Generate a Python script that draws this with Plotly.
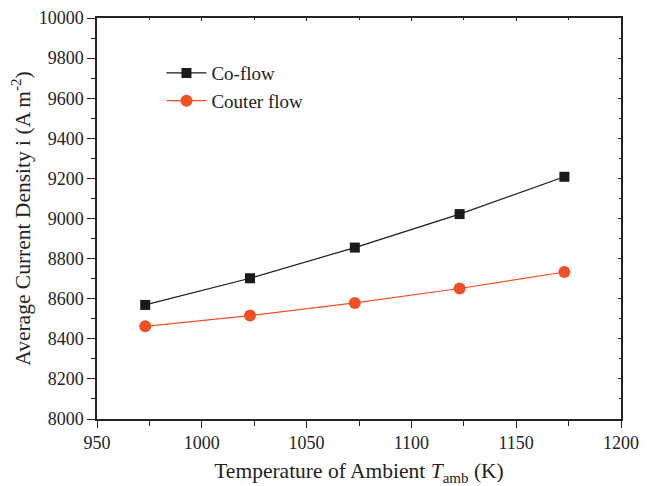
import plotly.graph_objects as go

temps = [973, 1023, 1073, 1123, 1173]
co_flow = [8569, 8702, 8855, 9022, 9208]
counter_flow = [8462, 8516, 8579, 8651, 8733]
x_ticks = [950, 1000, 1050, 1100, 1150, 1200]
y_ticks = [8000, 8200, 8400, 8600, 8800, 9000, 9200, 9400, 9600, 9800, 10000]

FONT = "Liberation Serif, Times New Roman, serif"
AX = "#222222"

fig = go.Figure()
fig.add_trace(go.Scatter(x=temps, y=co_flow, mode="lines+markers", name="Co-flow",
                         line=dict(color="#1a1a1a", width=1.2),
                         marker=dict(symbol="square", size=10, color="#1a1a1a")))
fig.add_trace(go.Scatter(x=temps, y=counter_flow, mode="lines+markers", name="Couter flow",
                         line=dict(color="#f05023", width=1.2),
                         marker=dict(symbol="circle", size=12, color="#f05023")))
fig.add_trace(go.Scatter(x=[None], y=[None], xaxis="x2", yaxis="y2", showlegend=False, hoverinfo="skip"))

common = dict(showline=True, linecolor=AX, linewidth=1.5, showgrid=False, zeroline=False,
              tickcolor=AX, tickwidth=1.2, tickformat="d", automargin=False,
              tickfont=dict(family=FONT, size=18, color=AX))

fig.update_layout(
    width=662, height=486,
    margin=dict(l=97, r=41, t=18, b=67),
    paper_bgcolor="white", plot_bgcolor="white",
    font=dict(family=FONT, color=AX),
    xaxis=dict(range=[950, 1200], tickvals=x_ticks, ticks="outside", ticklen=7,
               minor=dict(ticks="outside", ticklen=5, dtick=25, tick0=950, tickcolor=AX),
               title=dict(text="Temperature of Ambient <i>T</i><sub>amb</sub> (K)",
                          font=dict(family=FONT, size=21.5, color=AX)),
               **common),
    yaxis=dict(range=[8000, 10000], tickvals=y_ticks, ticks="outside", ticklen=8,
               minor=dict(ticks="outside", ticklen=4, dtick=100, tick0=8000, tickcolor=AX),
               title=dict(text="Average Current Density i (A m<sup>-2</sup>)",
                          font=dict(family=FONT, size=21.5, color=AX), standoff=2),
               **common),
    xaxis2=dict(range=[950, 1200], overlaying="x", side="top", anchor="y2", automargin=False,
                showline=True, linecolor=AX, linewidth=1.5, showgrid=False, zeroline=False,
                showticklabels=False, tickvals=x_ticks, ticks="inside", ticklen=3,
                tickcolor=AX, minor=dict(ticks="inside", ticklen=2, dtick=25, tick0=950, tickcolor=AX)),
    yaxis2=dict(range=[8000, 10000], overlaying="y", side="right", anchor="x2", automargin=False,
                showline=True, linecolor=AX, linewidth=1.5, showgrid=False, zeroline=False,
                showticklabels=False, tickvals=y_ticks, ticks="inside", ticklen=3,
                tickcolor=AX, minor=dict(ticks="inside", ticklen=2, dtick=100, tick0=8000, tickcolor=AX)),
    legend=dict(x=0.123, y=0.91, xanchor="left", yanchor="top", bgcolor="rgba(0,0,0,0)",
                font=dict(family=FONT, size=19, color=AX), tracegroupgap=0, itemwidth=40),
    showlegend=True,
)

fig.write_html("out.html")
